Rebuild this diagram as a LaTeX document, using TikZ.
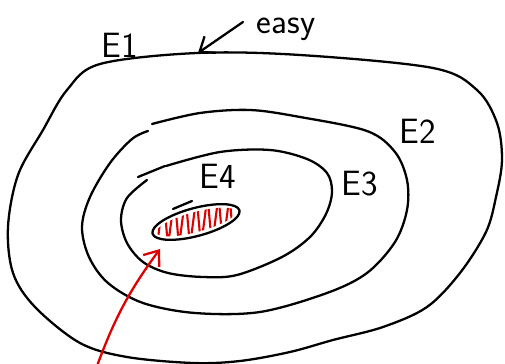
\documentclass[tikz,border=0pt]{standalone}
\usepackage{tikz}
\usetikzlibrary{arrows.meta}

\definecolor{inkred}{RGB}{220,0,0}

\tikzset{
  contour/.style={line width=1.3pt, line cap=round, line join=round},
  lbl/.style={font=\fontsize{20}{24}\selectfont\sffamily, inner sep=0pt},
  hatch/.style={inkred, line width=1.2pt, line join=round},
  pointer/.style={line width=1.3pt, line cap=round, -{Straight Barb[length=2.6mm, width=4mm]}}
}

\begin{document}
\begin{tikzpicture}[x=0.02cm, y=-0.02cm]
  \useasboundingbox (0,0) rectangle (505,364);

  % outer set E1
  \draw[contour] plot[smooth cycle, tension=0.55] coordinates {
    (100,64) (197,53) (300,55) (433,68) (477,90) (497,123) (502,160)
    (496,197) (486,232) (460,273) (427,307) (383,327) (333,340) (290,352)
    (240,361) (193,363) (127,357) (80,343) (35,307) (13,273) (8,227)
    (18,175) (43,130) (67,90)};

  % E2 (not quite closed)
  \draw[contour] plot[smooth, tension=0.55] coordinates {
    (152,124) (200,113) (250,110) (300,117) (367,131) (395,152) (407,180)
    (407,210) (395,242) (367,273) (327,293) (260,312) (195,313) (143,303)
    (108,283) (89,257) (82,227) (90,197) (110,163) (132,139) (148,131)};

  % E3
  \draw[contour] plot[smooth, tension=0.55] coordinates {
    (166,166) (220,152) (270,150) (307,159) (327,173) (332,192) (326,214)
    (310,237) (282,257) (237,275) (203,277) (168,273) (143,262) (127,243)
    (121,220) (127,198) (147,180)};
  \draw[contour] (138,177) -- (165,166);

  % E4 and its hatched inside
  \coordinate (E4c) at (196,222);
  \begin{scope}
    \clip[rotate around={15:(E4c)}] (E4c) ellipse [x radius=0.82cm, y radius=0.2cm];
    \draw[hatch] (157,246) \foreach \i in {1,...,7} {
      -- ({157+11*\i-4.5},196) -- ({157+11*\i},246) };
  \end{scope}
  \draw[contour, rotate around={15:(E4c)}] (E4c) ellipse [x radius=0.9cm, y radius=0.28cm];
  \draw[contour] (173,209) -- (192,201);

  % labels
  \node[lbl] (e1)   at (120,45)  {E1};
  \node[lbl] (easy) at (286,29)  {easy};
  \node[lbl] (e2)   at (418,131) {E2};
  \node[lbl] (e3)   at (360,184) {E3};
  \node[lbl] (e4)   at (218,176) {E4};

  % arrows
  \coordinate (easytail) at (243,22);
  \coordinate (easytip) at (198,53);
  \draw[pointer] (easytail) -- (easytip);

  \coordinate (redtail) at (97,366);
  \coordinate (redtip) at (160,249);
  \draw[pointer, inkred] (redtail) to[bend left=8] (redtip);
\end{tikzpicture}
\end{document}
